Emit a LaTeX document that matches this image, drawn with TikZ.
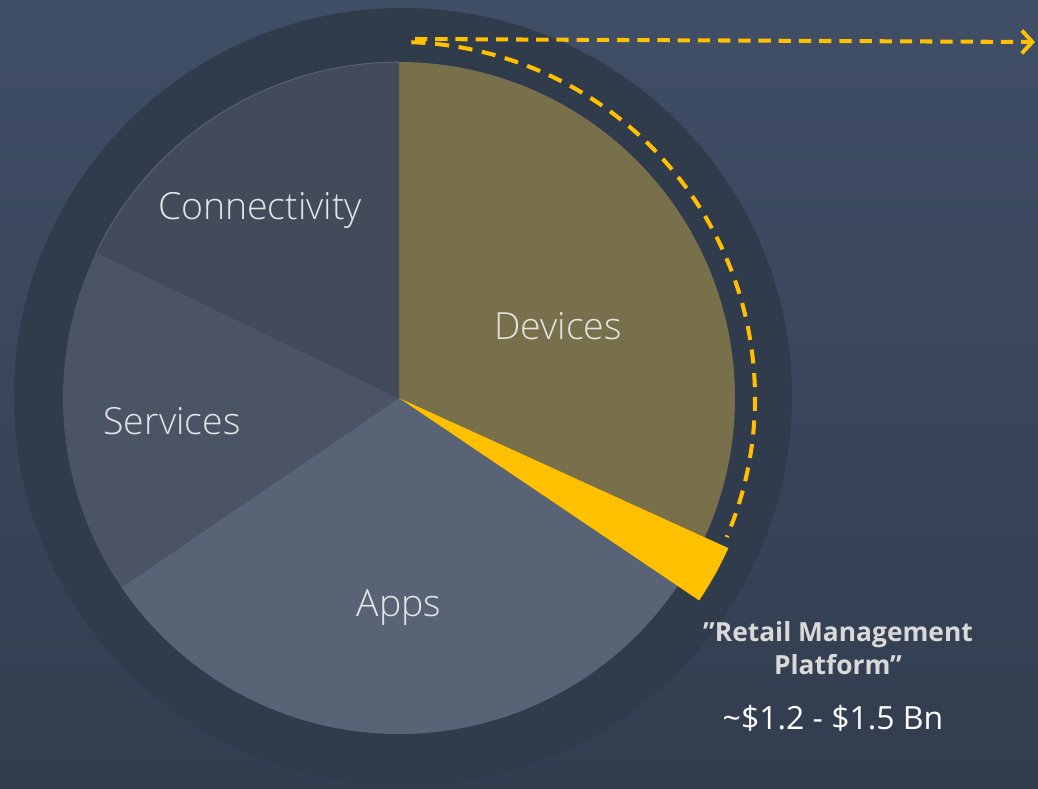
\documentclass[tikz,border=0pt]{standalone}
\usepackage{fontspec}
\setmainfont{Open Sans}
\newfontfamily\slimfont{Open Sans Light}
\usetikzlibrary{arrows.meta}
\definecolor{bgtop}{HTML}{404E66}
\definecolor{bgbottom}{HTML}{323D4F}
\definecolor{ringcol}{HTML}{303B4C}
\definecolor{devcol}{HTML}{77704B}
\definecolor{conncol}{HTML}{414B59}
\definecolor{servcol}{HTML}{4A5464}
\definecolor{appscol}{HTML}{586375}
\definecolor{gold}{HTML}{FFC000}
\definecolor{labelcol}{HTML}{E4E4E4}
\definecolor{notecol}{HTML}{D9D9D9}

\begin{document}
\begin{tikzpicture}[x=0.02cm, y=0.02cm,
    pielabel/.style={text=labelcol, font=\slimfont\fontsize{21.3}{25}\selectfont},
    goldline/.style={gold, line width=2.3pt, dash pattern=on 7pt off 4.5pt}]
  \useasboundingbox (0,0) rectangle (1038,-788);
  \shade[top color=bgtop, bottom color=bgbottom] (0,0) rectangle (1038,-788);
  \fill[ringcol] (403,-397) circle (389);
  % pie
  \coordinate (c) at (399,-398);
  \fill[devcol] (c) -- ++(90:336) arc (90:-24.5:336) -- cycle;
  \fill[appscol] (c) -- ++(-34:336) arc (-34:-145.7:336) -- cycle;
  \fill[servcol] (c) -- ++(214.3:336) arc (214.3:154.3:336) -- cycle;
  \fill[conncol] (c) -- ++(154.3:336) arc (154.3:90:336) -- cycle;
  \draw[white, opacity=0.15, line width=0.6pt] (c) ++(154.3:336) arc (154.3:90:336);
  \fill[gold] (c) -- ++(-24.5:362) arc (-24.5:-34:362) -- cycle;
  % dashed path round the devices slice
  \coordinate (arcstart) at ([shift={(88:356)}]c);
  \draw[goldline, dash pattern=on 8pt off 5.5pt] (arcstart) arc (88:-23:356);
  \coordinate (flowstart) at (415,-39);
  \coordinate (flowend) at (1035,-42);
  \draw[goldline, -{Straight Barb[length=6pt, width=13pt, line width=2.2pt]}] (flowstart) -- (flowend);
  % labels
  \node[pielabel] (conn) at (260,-210) {Connectivity};
  \node[pielabel] (dev) at (558,-326) {Devices};
  \node[pielabel] (serv) at (172,-421) {Services};
  \node[pielabel] (apps) at (399,-608) {Apps};
  \node[align=center, text=notecol, font=\bfseries\fontsize{15}{18.5}\selectfont] (rmp) at (838,-648) {”Retail Management\\Platform”};
  \node[text=white, font=\fontsize{18.2}{22}\selectfont] (size) at (833,-718) {\textasciitilde\$1.2 - \$1.5 Bn};
\end{tikzpicture}
\end{document}
